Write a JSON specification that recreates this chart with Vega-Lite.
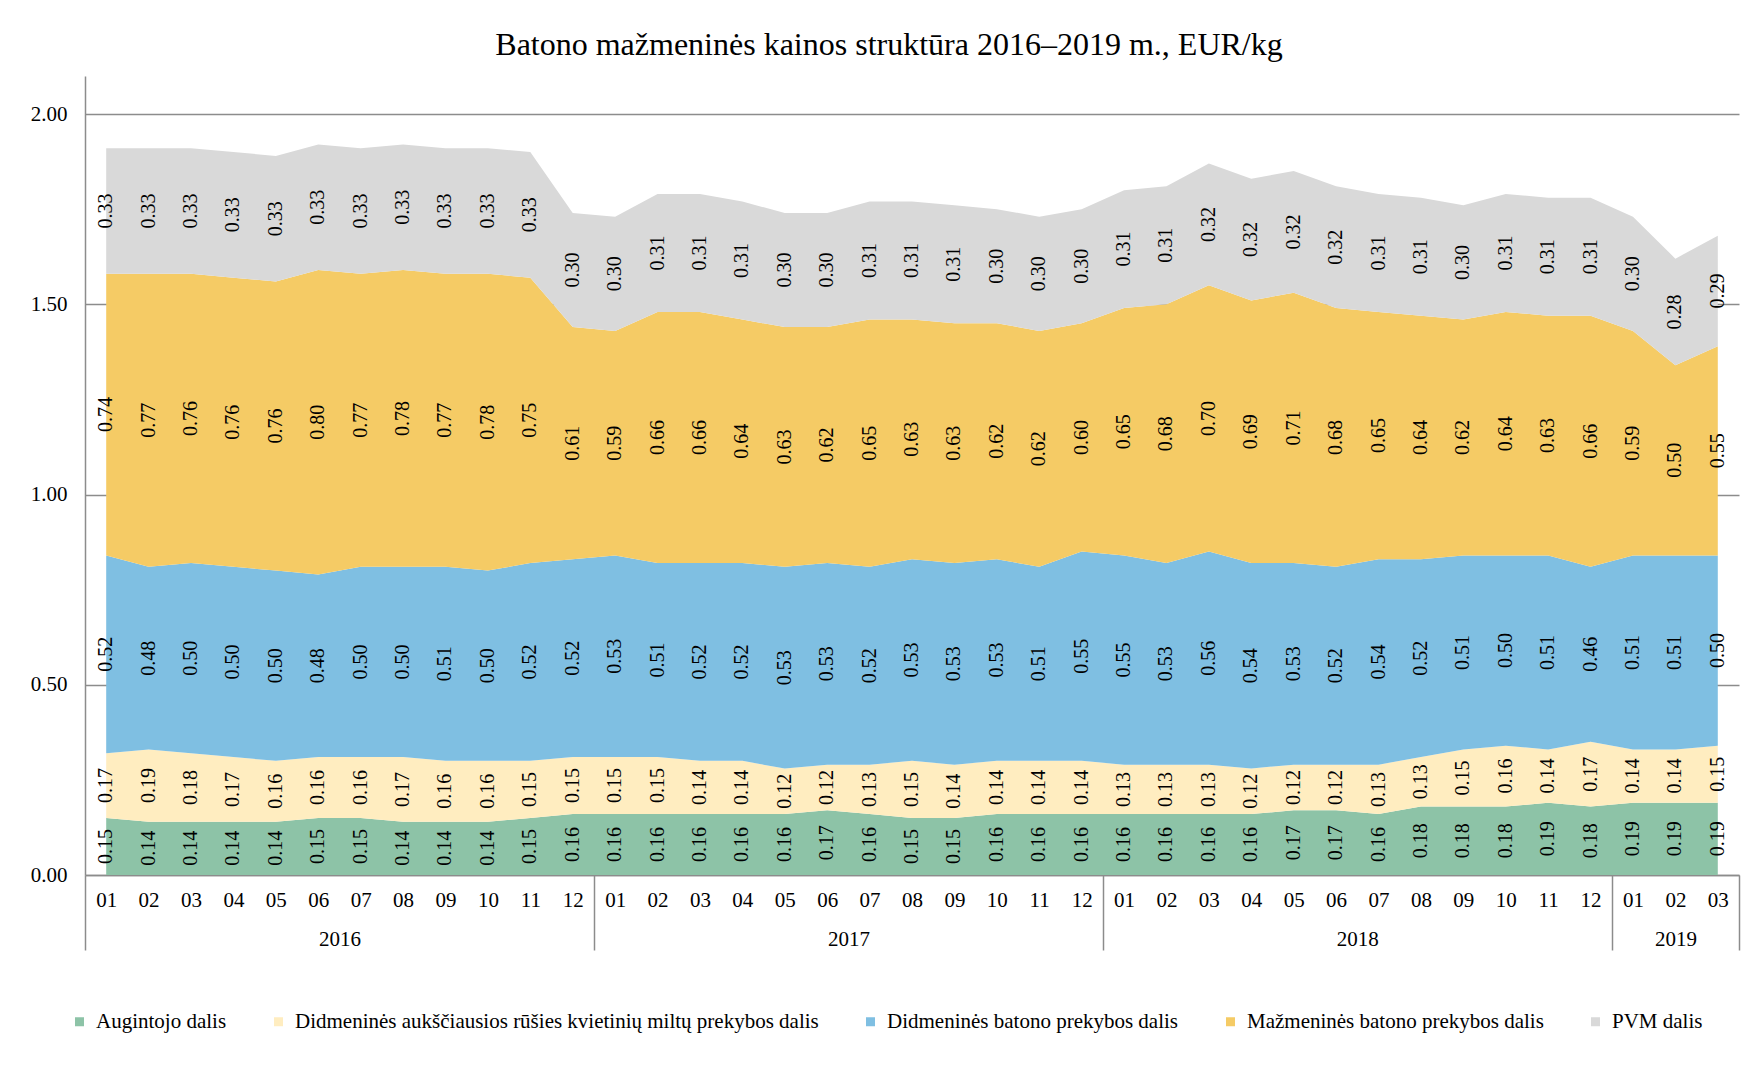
{
  "$schema": "https://vega.github.io/schema/vega-lite/v6.json",
  "width": 1654,
  "height": 799,
  "autosize": {"type": "none"},
  "padding": {"left": 85, "top": 76, "right": 24, "bottom": 205},
  "background": "white",
  "title": {
    "text": "Batono mažmeninės kainos struktūra 2016–2019 m., EUR/kg",
    "font": "Liberation Serif",
    "fontSize": 32,
    "fontWeight": "normal",
    "color": "#000000",
    "anchor": "middle",
    "dx": -23,
    "offset": 14
  },
  "data": {
    "values": [
      {"m": "2016-01", "augintojas": 0.15, "miltai": 0.17, "didmena": 0.52, "mazmena": 0.74, "pvm": 0.33},
      {"m": "2016-02", "augintojas": 0.14, "miltai": 0.19, "didmena": 0.48, "mazmena": 0.77, "pvm": 0.33},
      {"m": "2016-03", "augintojas": 0.14, "miltai": 0.18, "didmena": 0.50, "mazmena": 0.76, "pvm": 0.33},
      {"m": "2016-04", "augintojas": 0.14, "miltai": 0.17, "didmena": 0.50, "mazmena": 0.76, "pvm": 0.33},
      {"m": "2016-05", "augintojas": 0.14, "miltai": 0.16, "didmena": 0.50, "mazmena": 0.76, "pvm": 0.33},
      {"m": "2016-06", "augintojas": 0.15, "miltai": 0.16, "didmena": 0.48, "mazmena": 0.80, "pvm": 0.33},
      {"m": "2016-07", "augintojas": 0.15, "miltai": 0.16, "didmena": 0.50, "mazmena": 0.77, "pvm": 0.33},
      {"m": "2016-08", "augintojas": 0.14, "miltai": 0.17, "didmena": 0.50, "mazmena": 0.78, "pvm": 0.33},
      {"m": "2016-09", "augintojas": 0.14, "miltai": 0.16, "didmena": 0.51, "mazmena": 0.77, "pvm": 0.33},
      {"m": "2016-10", "augintojas": 0.14, "miltai": 0.16, "didmena": 0.50, "mazmena": 0.78, "pvm": 0.33},
      {"m": "2016-11", "augintojas": 0.15, "miltai": 0.15, "didmena": 0.52, "mazmena": 0.75, "pvm": 0.33},
      {"m": "2016-12", "augintojas": 0.16, "miltai": 0.15, "didmena": 0.52, "mazmena": 0.61, "pvm": 0.30},
      {"m": "2017-01", "augintojas": 0.16, "miltai": 0.15, "didmena": 0.53, "mazmena": 0.59, "pvm": 0.30},
      {"m": "2017-02", "augintojas": 0.16, "miltai": 0.15, "didmena": 0.51, "mazmena": 0.66, "pvm": 0.31},
      {"m": "2017-03", "augintojas": 0.16, "miltai": 0.14, "didmena": 0.52, "mazmena": 0.66, "pvm": 0.31},
      {"m": "2017-04", "augintojas": 0.16, "miltai": 0.14, "didmena": 0.52, "mazmena": 0.64, "pvm": 0.31},
      {"m": "2017-05", "augintojas": 0.16, "miltai": 0.12, "didmena": 0.53, "mazmena": 0.63, "pvm": 0.30},
      {"m": "2017-06", "augintojas": 0.17, "miltai": 0.12, "didmena": 0.53, "mazmena": 0.62, "pvm": 0.30},
      {"m": "2017-07", "augintojas": 0.16, "miltai": 0.13, "didmena": 0.52, "mazmena": 0.65, "pvm": 0.31},
      {"m": "2017-08", "augintojas": 0.15, "miltai": 0.15, "didmena": 0.53, "mazmena": 0.63, "pvm": 0.31},
      {"m": "2017-09", "augintojas": 0.15, "miltai": 0.14, "didmena": 0.53, "mazmena": 0.63, "pvm": 0.31},
      {"m": "2017-10", "augintojas": 0.16, "miltai": 0.14, "didmena": 0.53, "mazmena": 0.62, "pvm": 0.30},
      {"m": "2017-11", "augintojas": 0.16, "miltai": 0.14, "didmena": 0.51, "mazmena": 0.62, "pvm": 0.30},
      {"m": "2017-12", "augintojas": 0.16, "miltai": 0.14, "didmena": 0.55, "mazmena": 0.60, "pvm": 0.30},
      {"m": "2018-01", "augintojas": 0.16, "miltai": 0.13, "didmena": 0.55, "mazmena": 0.65, "pvm": 0.31},
      {"m": "2018-02", "augintojas": 0.16, "miltai": 0.13, "didmena": 0.53, "mazmena": 0.68, "pvm": 0.31},
      {"m": "2018-03", "augintojas": 0.16, "miltai": 0.13, "didmena": 0.56, "mazmena": 0.70, "pvm": 0.32},
      {"m": "2018-04", "augintojas": 0.16, "miltai": 0.12, "didmena": 0.54, "mazmena": 0.69, "pvm": 0.32},
      {"m": "2018-05", "augintojas": 0.17, "miltai": 0.12, "didmena": 0.53, "mazmena": 0.71, "pvm": 0.32},
      {"m": "2018-06", "augintojas": 0.17, "miltai": 0.12, "didmena": 0.52, "mazmena": 0.68, "pvm": 0.32},
      {"m": "2018-07", "augintojas": 0.16, "miltai": 0.13, "didmena": 0.54, "mazmena": 0.65, "pvm": 0.31},
      {"m": "2018-08", "augintojas": 0.18, "miltai": 0.13, "didmena": 0.52, "mazmena": 0.64, "pvm": 0.31},
      {"m": "2018-09", "augintojas": 0.18, "miltai": 0.15, "didmena": 0.51, "mazmena": 0.62, "pvm": 0.30},
      {"m": "2018-10", "augintojas": 0.18, "miltai": 0.16, "didmena": 0.50, "mazmena": 0.64, "pvm": 0.31},
      {"m": "2018-11", "augintojas": 0.19, "miltai": 0.14, "didmena": 0.51, "mazmena": 0.63, "pvm": 0.31},
      {"m": "2018-12", "augintojas": 0.18, "miltai": 0.17, "didmena": 0.46, "mazmena": 0.66, "pvm": 0.31},
      {"m": "2019-01", "augintojas": 0.19, "miltai": 0.14, "didmena": 0.51, "mazmena": 0.59, "pvm": 0.30},
      {"m": "2019-02", "augintojas": 0.19, "miltai": 0.14, "didmena": 0.51, "mazmena": 0.50, "pvm": 0.28},
      {"m": "2019-03", "augintojas": 0.19, "miltai": 0.15, "didmena": 0.50, "mazmena": 0.55, "pvm": 0.29}
    ]
  },
  "transform": [
    {"fold": ["augintojas", "miltai", "didmena", "mazmena", "pvm"], "as": ["serija", "kaina"]},
    {"stack": "kaina", "groupby": ["m"], "as": ["y0", "y1"]}
  ],
  "layer": [
    {
      "mark": {"type": "area", "interpolate": "linear", "opacity": 1},
      "encoding": {
        "x": {
          "field": "m",
          "type": "ordinal",
          "title": null,
          "axis": {
            "orient": "bottom",
            "labelExpr": "slice(datum.label, 5)",
            "labelAngle": 0,
            "labelBaseline": "top",
            "ticks": true,
            "tickSize": 75,
            "tickOffset": -21.205,
            "labelOffset": 21.205,
            "labelPadding": -61,
            "tickOpacity": {"condition": {"test": "slice(datum.value, 5) == '01'", "value": 1}, "value": 0},
            "domain": true,
            "grid": false
          }
        },
        "y": {
          "field": "y1",
          "type": "quantitative",
          "title": null,
          "scale": {"domain": [0, 2.1], "nice": false, "zero": true},
          "axis": {
            "values": [0, 0.5, 1, 1.5, 2],
            "format": ".2f",
            "grid": true,
            "ticks": false,
            "labelPadding": 18
          }
        },
        "y2": {"field": "y0"},
        "color": {
          "field": "serija",
          "type": "nominal",
          "scale": {
            "domain": ["augintojas", "miltai", "didmena", "mazmena", "pvm"],
            "range": ["#8DC3A7", "#FFEDC0", "#7FBFE2", "#F5CB65", "#D9D9D9"]
          },
          "legend": {
            "orient": "none",
            "legendX": -16,
            "legendY": 935,
            "direction": "horizontal",
            "columns": 5,
            "title": null,
            "symbolType": "square",
            "symbolSize": 81,
            "symbolStrokeWidth": 0,
            "symbolOpacity": 1,
            "labelFont": "Liberation Serif",
            "labelFontSize": 21,
            "labelColor": "#000000",
            "labelLimit": 1000,
            "labelOffset": 6,
            "columnPadding": 41,
            "padding": 0,
            "labelExpr": "datum.label == 'augintojas' ? 'Augintojo dalis' : datum.label == 'miltai' ? 'Didmeninės aukščiausios rūšies kvietinių miltų prekybos dalis' : datum.label == 'didmena' ? 'Didmeninės batono prekybos dalis' : datum.label == 'mazmena' ? 'Mažmeninės batono prekybos dalis' : 'PVM dalis'"
          }
        }
      }
    },
    {
      "transform": [
        {"fold": ["y0", "y1"], "as": ["krastas", "yy"]},
        {"aggregate": [{"op": "mean", "field": "yy", "as": "ymid"}, {"op": "max", "field": "kaina", "as": "reiksme"}], "groupby": ["m", "serija"]}
      ],
      "mark": {
        "type": "text",
        "angle": 270,
        "font": "Liberation Serif",
        "fontSize": 20,
        "color": "#000000",
        "align": "center",
        "baseline": "middle"
      },
      "encoding": {
        "x": {
          "field": "m",
          "type": "ordinal",
          "title": null,
          "axis": {
            "orient": "bottom",
            "values": ["2016-06", "2017-06", "2018-06", "2019-02", "2019-03"],
            "labelExpr": "datum.value == '2019-03' ? '' : slice(datum.value, 0, 4)",
            "labelAngle": 0,
            "labelBaseline": "top",
            "domain": false,
            "grid": false,
            "ticks": true,
            "tickSize": 75,
            "tickOffset": 21.205,
            "labelOffset": {"condition": {"test": "datum.value == '2019-02'", "value": -21.205}, "value": 0},
            "tickOpacity": {"condition": {"test": "datum.value == '2019-03'", "value": 1}, "value": 0},
            "labelPadding": -22
          }
        },
        "y": {"field": "ymid", "type": "quantitative", "stack": null, "title": null},
        "text": {"field": "reiksme", "type": "quantitative", "format": ".2f"}
      }
    }
  ],
  "resolve": {"axis": {"x": "independent"}},
  "config": {
    "view": {"stroke": null},
    "axis": {
      "labelFont": "Liberation Serif",
      "labelFontSize": 21,
      "labelColor": "#000000",
      "domainColor": "#8C8C8C",
      "domainWidth": 1.5,
      "tickColor": "#8C8C8C",
      "tickWidth": 1.5,
      "gridColor": "#8C8C8C",
      "gridWidth": 1.5
    }
  }
}
